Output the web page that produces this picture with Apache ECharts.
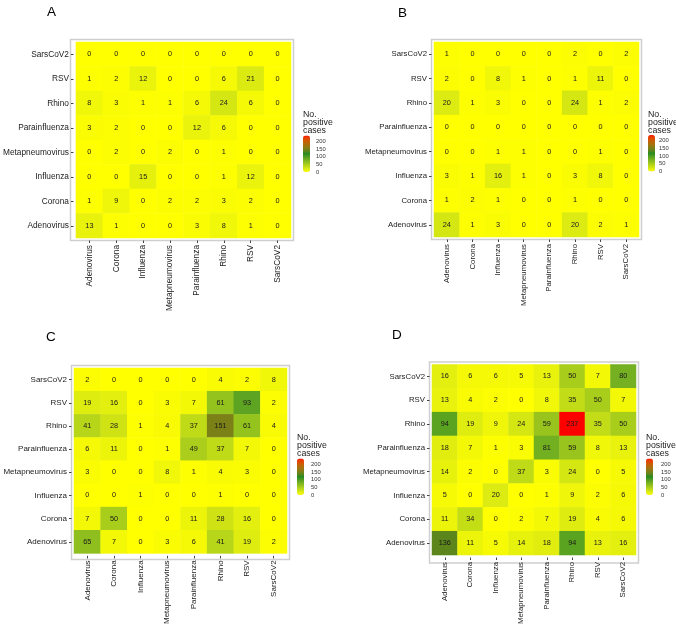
<!DOCTYPE html>
<html>
<head>
<meta charset="utf-8">
<script src="https://cdn.jsdelivr.net/npm/echarts@6/dist/echarts.min.js"></script>
<style>
html,body{margin:0;padding:0;background:#fff;}
#chart{width:676px;height:627px;}
</style>
</head>
<body>
<div id="chart"></div>
<script>
// categories (x left->right, y bottom->top)
const categories = ['Adenovirus','Corona','Influenza','Metapneumovirus','Parainfluenza','Rhino','RSV','SarsCoV2'];
const panelLabels = ['A','B','C','D'];
const legendTitle = 'No.\npositive\ncases';
const legendTicks = [0, 50, 100, 150, 200];
const scaleMax = 237;

// rows listed top (SarsCoV2) -> bottom (Adenovirus); columns in category order
const panelA = [
  [0, 0, 0, 0, 0, 0, 0, 0],
  [1, 2, 12, 0, 0, 6, 21, 0],
  [8, 3, 1, 1, 6, 24, 6, 0],
  [3, 2, 0, 0, 12, 6, 0, 0],
  [0, 2, 0, 2, 0, 1, 0, 0],
  [0, 0, 15, 0, 0, 1, 12, 0],
  [1, 9, 0, 2, 2, 3, 2, 0],
  [13, 1, 0, 0, 3, 8, 1, 0]
];
const panelB = [
  [1, 0, 0, 0, 0, 2, 0, 2],
  [2, 0, 8, 1, 0, 1, 11, 0],
  [20, 1, 3, 0, 0, 24, 1, 2],
  [0, 0, 0, 0, 0, 0, 0, 0],
  [0, 0, 1, 1, 0, 0, 1, 0],
  [3, 1, 16, 1, 0, 3, 8, 0],
  [1, 2, 1, 0, 0, 1, 0, 0],
  [24, 1, 3, 0, 0, 20, 2, 1]
];
const panelC = [
  [2, 0, 0, 0, 0, 4, 2, 8],
  [19, 16, 0, 3, 7, 61, 93, 2],
  [41, 28, 1, 4, 37, 151, 61, 4],
  [6, 11, 0, 1, 49, 37, 7, 0],
  [3, 0, 0, 8, 1, 4, 3, 0],
  [0, 0, 1, 0, 0, 1, 0, 0],
  [7, 50, 0, 0, 11, 28, 16, 0],
  [65, 7, 0, 3, 6, 41, 19, 2]
];
const panelD = [
  [16, 6, 6, 5, 13, 50, 7, 80],
  [13, 4, 2, 0, 8, 35, 50, 7],
  [94, 19, 9, 24, 59, 237, 35, 50],
  [18, 7, 1, 3, 81, 59, 8, 13],
  [14, 2, 0, 37, 3, 24, 0, 5],
  [5, 0, 20, 0, 1, 9, 2, 6],
  [11, 34, 0, 2, 7, 19, 4, 6],
  [136, 11, 5, 14, 18, 94, 13, 16]
];
const panels = [panelA, panelB, panelC, panelD];

// layout (pixels)
const layout = [
  {left: 73, top: 42, width: 218, height: 196, fs: 8.3, lx: 303, barTop: 135.5, tx: 316, letterX: 47, letterY: 5},
  {left: 434, top: 42, width: 205, height: 195, fs: 7.8, lx: 648, barTop: 135, tx: 659, letterX: 398, letterY: 6},
  {left: 74, top: 368, width: 213, height: 189, fs: 8.0, lx: 297, barTop: 458.5, tx: 311, letterX: 46, letterY: 330},
  {left: 432, top: 364.5, width: 204, height: 196, fs: 7.8, lx: 646, barTop: 458.5, tx: 661, letterX: 392, letterY: 328}
];
const barH = 36.5, barW = 7;
const FONT = '"Liberation Sans", Arial, sans-serif';
const anchorColors = [[255, 255, 0], [34, 139, 34], [255, 0, 0]]; // yellow, forestgreen, red

// Lab-space gradient (like ggplot's gradientn)
function toLab(c) {
  const lin = v => { v /= 255; return v <= 0.04045 ? v / 12.92 : Math.pow((v + 0.055) / 1.055, 2.4); };
  const r = lin(c[0]), g = lin(c[1]), b = lin(c[2]);
  const X = (0.4124 * r + 0.3576 * g + 0.1805 * b) / 0.95047;
  const Y = 0.2126 * r + 0.7152 * g + 0.0722 * b;
  const Z = (0.0193 * r + 0.1192 * g + 0.9505 * b) / 1.08883;
  const f = t => t > 0.008856 ? Math.cbrt(t) : 7.787 * t + 16 / 116;
  return [116 * f(Y) - 16, 500 * (f(X) - f(Y)), 200 * (f(Y) - f(Z))];
}
function fromLab(l) {
  const fy = (l[0] + 16) / 116, fx = fy + l[1] / 500, fz = fy - l[2] / 200;
  const fi = t => t * t * t > 0.008856 ? t * t * t : (t - 16 / 116) / 7.787;
  const X = 0.95047 * fi(fx), Y = fi(fy), Z = 1.08883 * fi(fz);
  const g = v => { v = v <= 0.0031308 ? 12.92 * v : 1.055 * Math.pow(v, 1 / 2.4) - 0.055; return Math.max(0, Math.min(255, Math.round(v * 255))); };
  return 'rgb(' + [g(3.2406 * X - 1.5372 * Y - 0.4986 * Z), g(-0.9689 * X + 1.8758 * Y + 0.0415 * Z), g(0.0557 * X - 0.2040 * Y + 1.0570 * Z)].join(',') + ')';
}
const labs = anchorColors.map(toLab);
const colors = [];
const steps = 40;
for (let k = 0; k <= steps; k++) {
  const t = k / steps * (labs.length - 1);
  const i0 = Math.min(Math.floor(t), labs.length - 2), u = t - i0;
  colors.push(fromLab(labs[i0].map((v, j) => v + (labs[i0 + 1][j] - v) * u)));
}

const chart = echarts.init(document.getElementById('chart'), null, {renderer: 'canvas'});

const grid = [], xAxis = [], yAxis = [], series = [], visualMap = [], graphic = [];
panels.forEach((rows, i) => {
  const L = layout[i];
  grid.push({left: L.left, top: L.top, width: L.width, height: L.height, show: false, containLabel: false});
  const axisCommon = {
    type: 'category', data: categories, gridIndex: i, offset: 2.5,
    axisLine: {show: false},
    axisTick: {show: true, length: 2.5, alignWithLabel: true, lineStyle: {color: '#444', width: 1}},
    axisLabel: {fontSize: L.fs, color: '#222', fontFamily: FONT, margin: 4.5, interval: 0},
    splitLine: {show: false}
  };
  xAxis.push(Object.assign({}, axisCommon, {axisLabel: Object.assign({}, axisCommon.axisLabel, {rotate: 90})}));
  yAxis.push(Object.assign({}, axisCommon));
  const data = [];
  const n = categories.length;
  rows.forEach((row, r) => {
    const yi = n - 1 - r;
    row.forEach((v, x) => data.push([x, yi, v]));
  });
  series.push({
    type: 'heatmap', xAxisIndex: i, yAxisIndex: i, data: data,
    label: {show: true, fontSize: 7.3, color: '#1a1a1a', fontFamily: FONT},
    itemStyle: {borderWidth: 0},
    emphasis: {disabled: true}, progressive: 0, animation: false
  });
  visualMap.push({
    type: 'continuous', min: 0, max: scaleMax, seriesIndex: i, dimension: 2,
    inRange: {color: colors}, calculable: false, orient: 'vertical',
    left: L.lx, top: L.barTop, itemWidth: barW, itemHeight: barH, padding: 0,
    text: null, hoverLink: false
  });
  // panel border
  graphic.push({type: 'rect', silent: true,
    shape: {x: L.left - 2.5, y: L.top - 2.5, width: L.width + 5, height: L.height + 5},
    style: {fill: 'none', stroke: '#cfcfcf', lineWidth: 1.5}});
  // panel letter
  graphic.push({type: 'text', silent: true, left: L.letterX, top: L.letterY,
    style: {text: panelLabels[i], font: '13.5px ' + FONT, fill: '#000'}});
  // legend title
  graphic.push({type: 'text', silent: true, left: L.lx, top: L.barTop - 25,
    style: {text: legendTitle, font: '8.8px ' + FONT, fill: '#222', lineHeight: 7.8}});
  // legend tick labels
  legendTicks.forEach(t => {
    const y = L.barTop + (1 - t / scaleMax) * barH;
    graphic.push({type: 'text', silent: true, x: L.tx, y: y,
      style: {text: String(t), font: '5.8px ' + FONT, fill: '#333', verticalAlign: 'middle', align: 'left'}});
  });
});

chart.setOption({
  animation: false,
  backgroundColor: '#ffffff',
  grid, xAxis, yAxis, series, visualMap, graphic
});
</script>
</body>
</html>
